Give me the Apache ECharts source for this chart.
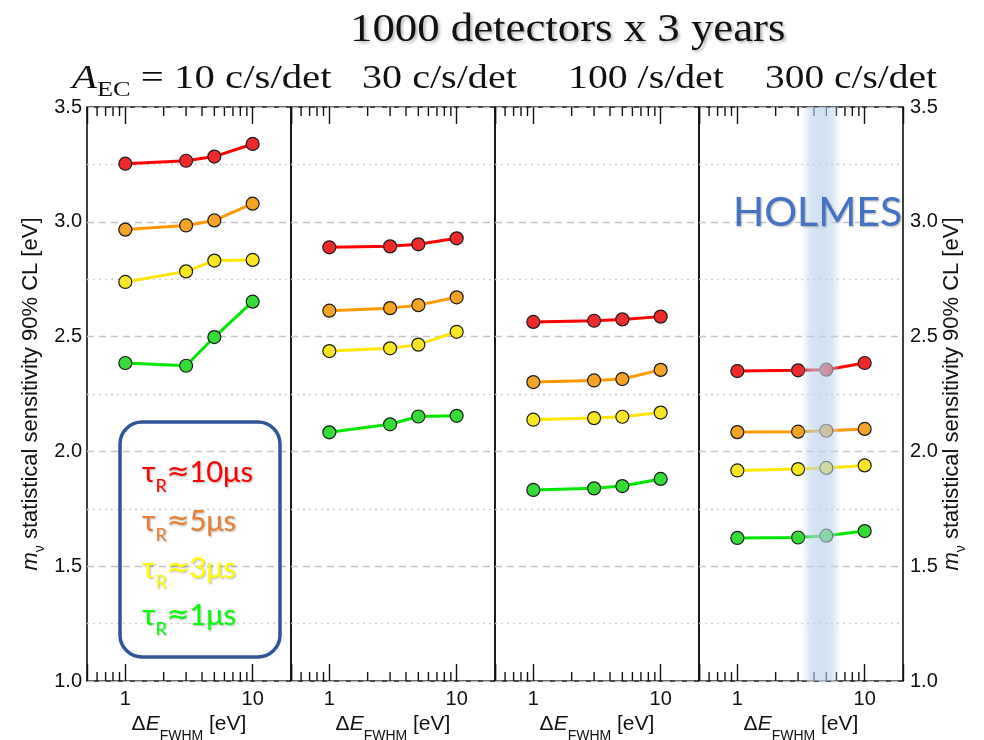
<!DOCTYPE html>
<html><head><meta charset="utf-8">
<script src="https://cdn.jsdelivr.net/npm/echarts@6/dist/echarts.min.js"></script>
<style>html,body{margin:0;padding:0;background:#fff}#c{width:984px;height:740px}</style>
</head><body><div id="c"></div><script>
// ---- data ----
const energies = [1, 3, 5, 10];                       // ΔE_FWHM [eV]
const panelRates = ['10 c/s/det', '30 c/s/det', '100 /s/det', '300 c/s/det'];
const tau10 = [[3.253,3.266,3.284,3.339],[2.889,2.893,2.902,2.928],[2.564,2.569,2.575,2.587],[2.350,2.353,2.356,2.385]];
const tau5  = [[2.966,2.984,3.006,3.079],[2.613,2.624,2.637,2.671],[2.302,2.309,2.315,2.355],[2.084,2.086,2.090,2.098]];
const tau3  = [[2.738,2.784,2.831,2.834],[2.437,2.449,2.465,2.521],[2.138,2.145,2.151,2.169],[1.917,1.923,1.928,1.939]];
const tau1  = [[2.385,2.373,2.498,2.652],[2.083,2.118,2.152,2.155],[1.832,1.839,1.849,1.880],[1.623,1.625,1.633,1.653]];
const tauValues = ['10μs', '5μs', '3μs', '1μs'];
const minorTickValues = [0.6, 0.7, 0.8, 0.9, 2, 3, 4, 5, 6, 7, 8, 9];
const holmesBand = [3.2, 6.5];
const Y_MIN = 1.0, Y_MAX = 3.5, X_MIN = 0.5, X_MAX = 20;

// ---- styles ----
const tauSets = [tau10, tau5, tau3, tau1];
const lineColors = ['#ff0000', '#ff9900', '#ffe600', '#00e600'];
const markerColors = ['#ee2a2a', '#f5a327', '#f8e624', '#35dc35'];
const legendColors = ['#ff0000', '#ed7d31', '#ffff00', '#00ff00'];
const SANS = '"Liberation Sans", Arial, sans-serif';
const SERIF = '"Liberation Serif", "Times New Roman", serif';
const CAL = 'Lato, "Open Sans", "DejaVu Sans", sans-serif';

const GL = 87, GW = 204, GT = 107, GH = 574;
const grids = [], xAxes = [], yAxes = [], series = [];
const xLabelFmt = v => { const l = Math.log10(v); return Math.abs(l - Math.round(l)) < 1e-6 ? String(Math.round(v)) : ''; };

for (let p = 0; p < 4; p++) {
  grids.push({ left: GL + GW * p, top: GT, width: GW, height: GH, show: true,
    borderColor: '#111', borderWidth: 1.6, backgroundColor: 'transparent', outerBoundsMode: 'none' });
  xAxes.push({ gridIndex: p, type: 'log', logBase: 10, min: X_MIN, max: X_MAX, position: 'bottom',
    axisLine: { show: false }, splitLine: { show: false },
    axisTick: { show: true, inside: true, length: 17, lineStyle: { color: '#111', width: 1.4 } },
    axisLabel: { formatter: xLabelFmt, fontSize: 20, color: '#111', margin: 8, fontFamily: SANS },
    name: '{n|Δ}{i|E}{s|FWHM}{n| [eV]}', nameLocation: 'middle', nameGap: 30,
    nameTextStyle: { fontFamily: SANS, color: '#111', rich: {
      n: { fontSize: 21, fontFamily: SANS, color: '#111', lineHeight: 24, verticalAlign: 'top' },
      i: { fontSize: 21, fontFamily: SANS, fontStyle: 'italic', color: '#111', lineHeight: 24, verticalAlign: 'top' },
      s: { fontSize: 14, fontFamily: SANS, color: '#111', lineHeight: 14, verticalAlign: 'top', padding: [15, 0, 0, 0] } } }
  });
  xAxes.push({ gridIndex: p, type: 'log', logBase: 10, min: X_MIN, max: X_MAX, position: 'top',
    axisLine: { show: false }, splitLine: { show: false }, axisLabel: { show: false },
    axisTick: { show: true, inside: true, length: 17, lineStyle: { color: '#111', width: 1.4 } } });
  const y = { gridIndex: p, type: 'value', min: Y_MIN, max: Y_MAX, interval: 0.5,
    axisLine: { show: false }, axisTick: { show: false },
    splitLine: { show: true, lineStyle: { color: '#c4c4c4', width: 1.4, type: [7, 5] } },
    minorTick: { show: false, splitNumber: 2 },
    minorSplitLine: { show: true, lineStyle: { color: '#cfcfcf', width: 1.3, type: [2, 4] } },
    axisLabel: { show: false } };
  if (p === 0 || p === 3) {
    y.position = p === 0 ? 'left' : 'right';
    y.axisLabel = { show: true, formatter: v => v.toFixed(1), fontSize: 20, color: '#111', fontFamily: SANS, margin: p === 0 ? 5 : 7 };
    y.name = '{i|m}{s|ν}{n| statistical sensitivity 90% CL [eV]}';
    y.nameLocation = 'middle';
    y.nameGap = p === 0 ? 42 : 38;
    y.nameMoveOverlap = false;
    y.nameTextStyle = { fontFamily: SANS, color: '#111', rich: {
      n: { fontSize: 22, fontFamily: SANS, color: '#111', lineHeight: 25, verticalAlign: 'top' },
      i: { fontSize: 22, fontFamily: SANS, fontStyle: 'italic', color: '#111', lineHeight: 25, verticalAlign: 'top' },
      s: { fontSize: 14, fontFamily: SANS, color: '#111', lineHeight: 14, verticalAlign: 'top', padding: [13, 0, 0, 0] } } };
  }
  yAxes.push(y);

  tauSets.forEach((set, t) => {
    series.push({ type: 'line', xAxisIndex: p * 2, yAxisIndex: p, z: 3,
      data: energies.map((e, k) => [e, set[p][k]]),
      symbol: 'circle', symbolSize: 13, showSymbol: true,
      lineStyle: { color: lineColors[t], width: 3 },
      itemStyle: { color: markerColors[t], borderColor: '#1a1a1a', borderWidth: 1.2 },
      emphasis: { disabled: true }, silent: true });
  });

  series.push({ type: 'custom', xAxisIndex: p * 2, yAxisIndex: p, z: 4, silent: true,
    data: minorTickValues.map(v => [v, Y_MIN]),
    renderItem: (params, api) => {
      const v = api.value(0);
      const b = api.coord([v, Y_MIN]);
      const t = api.coord([v, Y_MAX]);
      const st = { stroke: '#111', lineWidth: 1.4 };
      return { type: 'group', children: [
        { type: 'line', shape: { x1: b[0], y1: b[1], x2: b[0], y2: b[1] - 9 }, style: st },
        { type: 'line', shape: { x1: t[0], y1: t[1], x2: t[0], y2: t[1] + 9 }, style: st } ] };
    } });
}

// HOLMES band on the last panel
series.push({ type: 'custom', xAxisIndex: 6, yAxisIndex: 3, z: 10, silent: true,
  data: [[holmesBand[0], holmesBand[1]]],
  renderItem: (params, api) => {
    const a = api.coord([api.value(0), Y_MAX]);
    const b = api.coord([api.value(1), Y_MIN]);
    return { type: 'rect', shape: { x: a[0], y: a[1], width: b[0] - a[0], height: b[1] - a[1] },
      style: { fill: new echarts.graphic.LinearGradient(0, 0, 1, 0, [
        { offset: 0, color: 'rgba(185,210,236,0)' },
        { offset: 0.22, color: 'rgba(185,210,236,0.55)' },
        { offset: 0.5, color: 'rgba(185,210,236,0.68)' },
        { offset: 0.78, color: 'rgba(185,210,236,0.55)' },
        { offset: 1, color: 'rgba(185,210,236,0)' } ]) } };
  } });

// ---- texts ----
const shadow = { textShadowColor: 'rgba(0,0,0,0.28)', textShadowBlur: 3, textShadowOffsetX: 2, textShadowOffsetY: 2 };
const graphic = [];
graphic.push({ type: 'text', x: 350, y: 30, scaleX: 1.12, z: 20,
  style: Object.assign({ text: '1000 detectors x 3 years', font: '40px ' + SERIF, fill: '#111', align: 'left', verticalAlign: 'middle' }, shadow) });
const subX = [72, 362, 568, 765];
const subScale = [1.2, 1.18, 1.17, 1.16];
panelRates.forEach((r, i) => {
  const txt = i === 0 ? '{i|A}{s|EC}{n| = ' + r + '}' : '{n|' + r + '}';
  graphic.push({ type: 'text', x: subX[i], y: 62, scaleX: subScale[i], z: 20,
    style: { text: txt, align: 'left', verticalAlign: 'top', fill: '#111', font: '34px ' + SERIF,
      rich: {
        n: { fontSize: 34, fontFamily: SERIF, fill: '#111', lineHeight: 34, verticalAlign: 'top' },
        i: { fontSize: 34, fontFamily: SERIF, fontStyle: 'italic', fill: '#111', lineHeight: 34, verticalAlign: 'top' },
        s: { fontSize: 22, fontFamily: SERIF, fill: '#111', lineHeight: 22, verticalAlign: 'top', padding: [17, 0, 0, 0] } } } });
});
graphic.push({ type: 'rect', z: 20, shape: { x: 120, y: 422, width: 160, height: 235, r: 22 },
  style: { fill: 'rgba(255,255,255,0)', stroke: '#2f5597', lineWidth: 3.5 } });
const legY = [458, 507, 554, 601];
tauValues.forEach((lab, i) => {
  const c = legendColors[i];
  graphic.push({ type: 'text', x: 142, y: legY[i], z: 21,
    style: Object.assign({ text: '{t|τ}{s|R}{a|≈}{t|' + lab + '}', align: 'left', verticalAlign: 'top', fill: c,
      font: '29px ' + CAL,
      rich: {
        t: { fontSize: 29, fontFamily: CAL, fill: c, lineHeight: 32, verticalAlign: 'top' },
        a: { fontSize: 27, fontFamily: '"DejaVu Sans", sans-serif', fill: c, lineHeight: 32, verticalAlign: 'top', padding: [1, 0, 0, 0] },
        s: { fontSize: 18, fontFamily: CAL, fill: c, lineHeight: 18, verticalAlign: 'top', padding: [19, 0, 0, 0] } } },
      { textShadowColor: 'rgba(0,0,0,0.3)', textShadowBlur: 2, textShadowOffsetX: 1, textShadowOffsetY: 1 }) });
});
graphic.push({ type: 'text', x: 733, y: 213, z: 21,
  style: Object.assign({ text: 'HOLMES', font: '41px ' + CAL, fill: '#4472c4', align: 'left', verticalAlign: 'middle' },
    { textShadowColor: 'rgba(0,0,0,0.3)', textShadowBlur: 2, textShadowOffsetX: 1, textShadowOffsetY: 1 }) });

const chart = echarts.init(document.getElementById('c'), null, { renderer: 'canvas' });
chart.setOption({ animation: false, backgroundColor: '#ffffff', grid: grids, xAxis: xAxes, yAxis: yAxes, series, graphic });
</script></body></html>
